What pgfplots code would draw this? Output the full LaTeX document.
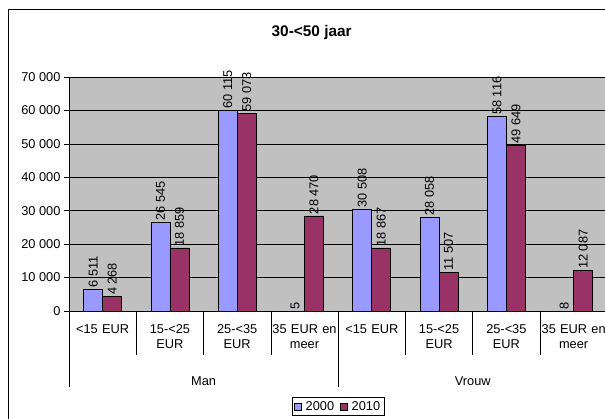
\documentclass[border=0pt]{standalone}
\usepackage{fontspec}
\setmainfont{Liberation Sans}
\usepackage{pgfplots}
\pgfplotsset{compat=1.18}
\definecolor{cA}{HTML}{9999FF}
\definecolor{cB}{HTML}{993366}
\definecolor{bg}{HTML}{C0C0C0}
\newcommand{\tf}{\fontsize{12.8}{15.5}\selectfont}
\begin{document}
\begin{tikzpicture}
\useasboundingbox (0pt,0pt) rectangle (605pt,419pt);
\clip (0pt,0pt) rectangle (605pt,419pt);
\draw[line width=1pt] (8pt,-20pt) -- (8pt,409pt) -- (700pt,409pt);
\node[font=\fontsize{15.4}{18}\selectfont\bfseries] at (311.7pt,386.7pt) {30-<50 jaar};
\begin{axis}[
  at={(69pt,108pt)}, anchor=south west,
  scale only axis, width=538.3pt, height=234pt,
  clip=false,
  xmin=-0.5, xmax=7.5, ymin=0, ymax=70000,
  axis background/.style={fill=bg},
  axis x line*=bottom, axis y line*=left,
  axis line style={black, line width=0.6pt},
  ytick={0,10000,...,70000},
  ymajorgrids, grid style={black, line width=0.6pt},
  tick align=outside, major tick length=5pt,
  ytick style={black, line width=0.6pt},
  yticklabel style={font=\tf},
  /pgf/number format/assume math mode=true,
  /pgf/number format/1000 sep={\ },
  scaled y ticks=false,
  xtick={0,...,7},
  xticklabels={{<15 EUR},{15-<25\\EUR},{25-<35\\EUR},{35 EUR en\\meer},{<15 EUR},{15-<25\\EUR},{25-<35\\EUR},{35 EUR en\\meer}},
  xtick style={draw=none},
  xticklabel style={font=\tf, align=center, text width=72pt, anchor=north, yshift=-5pt},
  ybar=0pt, bar width=19pt,
  nodes near coords={\pgfmathprintnumber[fixed,precision=0,1000 sep={\ }]{\pgfplotspointmeta}},
  every node near coord/.append style={font=\tf, rotate=90, anchor=west, black, inner sep=1.5pt},
  legend columns=2,
  legend style={at={(axis cs:3.5,0)}, anchor=north, yshift=-86pt, draw=black, line width=0.6pt,
    font=\tf, inner sep=2pt, column sep=2pt, /tikz/every even column/.append style={column sep=4pt}},
  legend image code/.code={\draw[#1,draw=black,line width=0.5pt] (0pt,-3.5pt) rectangle (7pt,3.5pt);},
]
\addplot[fill=cA, draw=black, line width=0.6pt] coordinates {(0,6511) (1,26545) (2,60115) (3,5) (4,30508) (5,28058) (6,58116) (7,8)};
\addplot[fill=cB, draw=black, line width=0.6pt] coordinates {(0,4268) (1,18859) (2,59073) (3,28470) (4,18867) (5,11507) (6,49649) (7,12087)};
\legend{2000,2010}
\pgfplotsinvokeforeach{0.5,1.5,2.5,4.5,5.5,6.5}{\draw[black,line width=0.6pt] (axis cs:#1,0) -- ++(0pt,-44pt);}
\pgfplotsinvokeforeach{-0.5,3.5,7.5}{\draw[black,line width=0.6pt] (axis cs:#1,0) -- ++(0pt,-76pt);}
\node[font=\tf] at (axis cs:1.5,0) [yshift=-70pt] {Man};
\node[font=\tf] at (axis cs:5.5,0) [yshift=-70pt] {Vrouw};
\end{axis}
\end{tikzpicture}
\end{document}
